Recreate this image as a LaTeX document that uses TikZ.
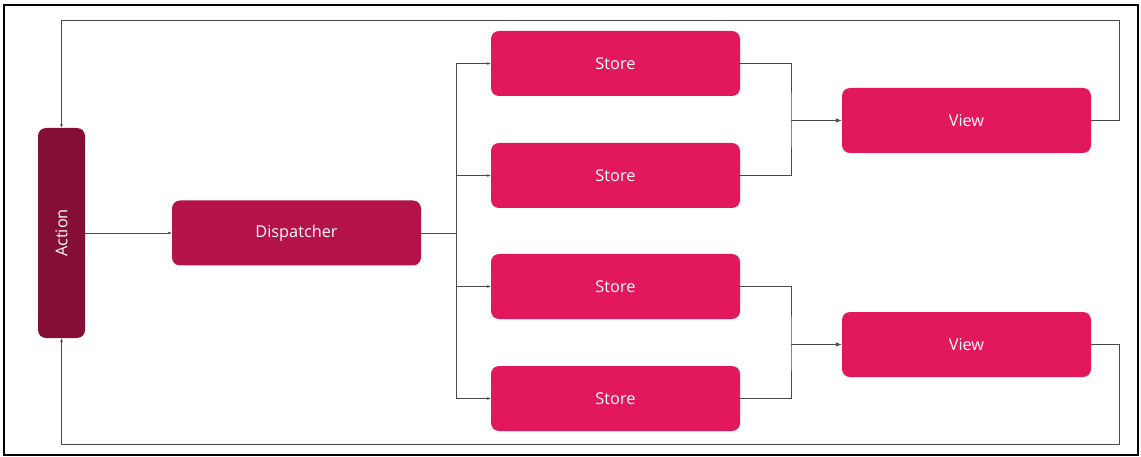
\documentclass[tikz,border=0pt]{standalone}
\usepackage{fontspec}
\setmainfont{Open Sans}
\usetikzlibrary{arrows.meta}
\definecolor{actc}{HTML}{850E35}
\definecolor{dispc}{HTML}{B31349}
\definecolor{storec}{HTML}{E1185B}
\definecolor{linec}{HTML}{4A4A4A}
\begin{document}
\begin{tikzpicture}[x=1pt,y=-1pt,
  box/.style={rounded corners=8pt, minimum width=249pt, minimum height=65pt, inner sep=0pt, text=white, font=\fontsize{16.3}{19}\selectfont},
  conn/.style={draw=linec, line width=0.9pt},
  arr/.style={conn, -{Latex[length=6pt,width=4.5pt]}},
  sarr/.style={conn, -{Latex[length=3.5pt,width=3pt]}}]
\useasboundingbox (0,0) rectangle (1141,457);
\draw[line width=2.5pt] (4,5) rectangle (1138,455);
\node[box, fill=actc, minimum width=47pt, minimum height=210pt] (act) at (61.5,233) {};
\node[rotate=90, text=white, font=\fontsize{16.3}{19}\selectfont] (actl) at (61.5,233) {Action};
\node[box, fill=dispc] (disp) at (296.5,233) {Dispatcher};
\node[box, fill=storec] (s1) at (615.5,63.5) {Store};
\node[box, fill=storec] (s2) at (615.5,175.5) {Store};
\node[box, fill=storec] (s3) at (615.5,286.5) {Store};
\node[box, fill=storec] (s4) at (615.5,398.5) {Store};
\node[box, fill=storec] (v1) at (966.5,120.5) {View};
\node[box, fill=storec] (v2) at (966.5,344.5) {View};
\coordinate (dj) at (456,233);
\coordinate (j1) at (791,120.5);
\coordinate (j2) at (791,344.5);
\draw[sarr] (act.east |- disp) -- (disp.west);
\draw[conn] (disp.east) -- (dj);
\draw[conn] (dj |- s1) -- (dj |- s4);
\foreach \s in {s1,s2,s3,s4} \draw[sarr] (dj |- \s) -- (\s.west);
\draw[conn] (s1.east) -| (j1) -- (j1 |- s2) -- (s2.east);
\draw[conn] (s3.east) -| (j2) -- (j2 |- s4) -- (s4.east);
\draw[arr] (j1) -- (v1.west);
\draw[arr] (j2) -- (v2.west);
\draw[sarr] (v1.east) -- (1119,120.5) -- (1119,20) -- (61.5,20) -- (act.north);
\draw[sarr] (v2.east) -- (1119,344.5) -- (1119,444) -- (61.5,444) -- (act.south);
\end{tikzpicture}
\end{document}
